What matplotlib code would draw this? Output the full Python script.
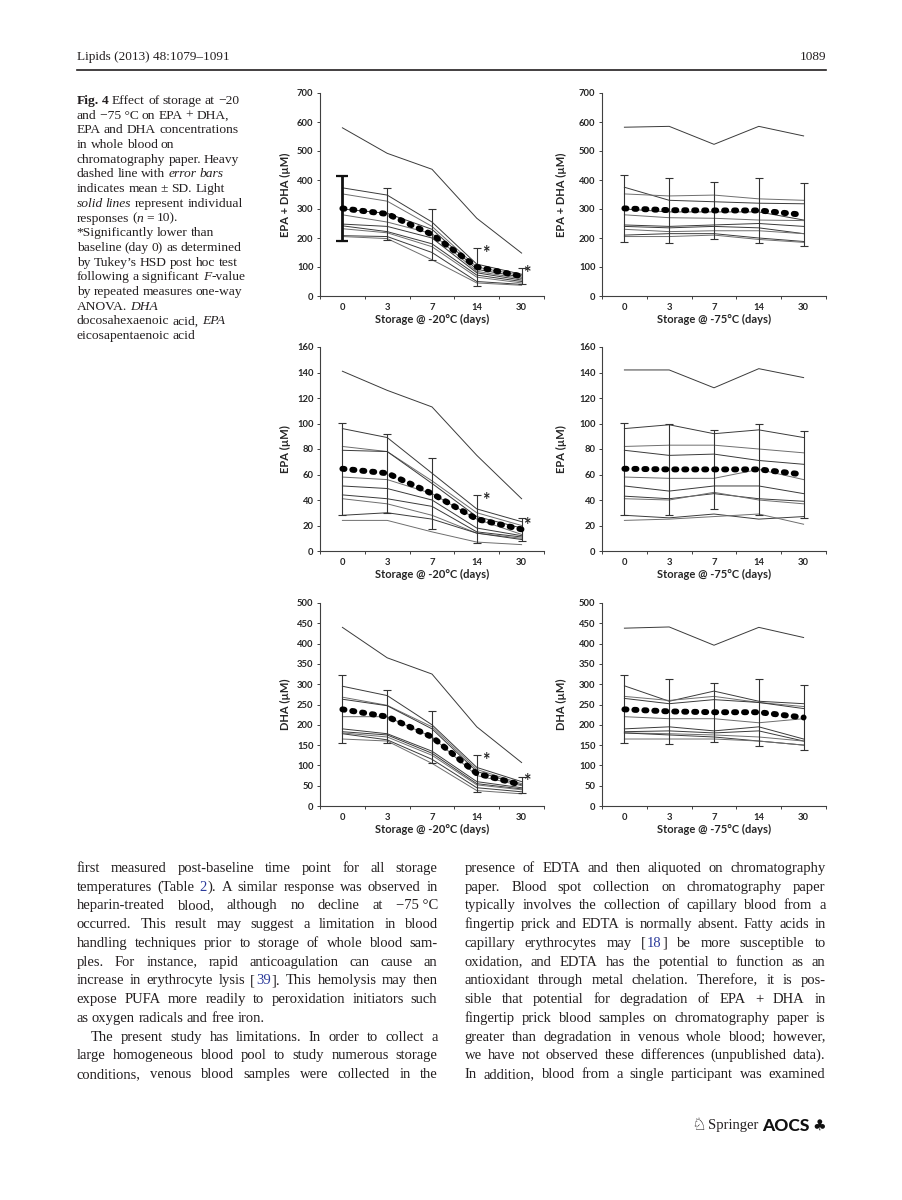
import re
import numpy as np
import matplotlib
matplotlib.use("Agg")
import matplotlib.pyplot as plt
from matplotlib.font_manager import FontProperties, findfont, get_font
from matplotlib.backends.backend_agg import get_hinting_flag

W, H, DPI = 903, 1200, 100

days = ["0", "3", "7", "14", "30"]

# EPA + DHA (uM), storage at -20 C  (10 individual responses)
ed20_lines = [
    [580, 492, 437, 268, 148],
    [373, 348, 255, 110, 75],
    [352, 327, 240, 100, 70],
    [300, 285, 230, 92, 65],
    [280, 255, 215, 85, 60],
    [248, 240, 200, 80, 55],
    [242, 222, 180, 72, 50],
    [232, 218, 170, 65, 45],
    [208, 205, 150, 50, 40],
    [205, 198, 125, 45, 37],
]
ed20_mean = [302, 283, 212, 100, 68]
ed20_sd = [113, 89, 88, 66, 27]

# EPA + DHA (uM), storage at -75 C
ed75_lines = [
    [582, 585, 523, 585, 552],
    [375, 330, 325, 320, 318],
    [352, 345, 348, 335, 330],
    [300, 290, 290, 290, 262],
    [280, 270, 268, 262, 260],
    [245, 240, 245, 250, 240],
    [240, 235, 240, 235, 215],
    [230, 222, 225, 225, 215],
    [210, 215, 215, 200, 188],
    [205, 205, 210, 195, 185],
]
ed75_mean = [302, 296, 295, 295, 280]
ed75_sd = [115, 112, 97, 112, 108]

# EPA (uM), -20 C
epa20_lines = [
    [141, 126, 113, 75, 41],
    [96, 89, 61, 33, 23],
    [82, 78, 55, 30, 20],
    [79, 78, 53, 27, 18],
    [58, 56, 45, 25, 13],
    [51, 49, 40, 18, 12],
    [44, 41, 35, 15, 11],
    [41, 37, 28, 14, 10],
    [28, 30, 25, 14, 9],
    [24, 24, 15, 7, 5],
]
epa20_mean = [64.5, 61, 45, 25, 17]
epa20_sd = [36, 31, 28, 19, 9]

# EPA (uM), -75 C
epa75_lines = [
    [142, 142, 128, 143, 136],
    [96, 99, 92, 95, 89],
    [82, 83, 83, 80, 77],
    [79, 75, 76, 71, 68],
    [58, 57, 57, 64, 56],
    [51, 47, 51, 51, 45],
    [43, 41, 45, 41, 39],
    [41, 40, 46, 40, 37],
    [28, 26, 29, 25, 27],
    [24, 25, 27, 29, 21],
]
epa75_mean = [64.5, 64, 64, 64, 60]
epa75_sd = [36, 36, 31, 36, 34]

# DHA (uM), -20 C
dha20_lines = [
    [440, 365, 325, 195, 107],
    [295, 272, 200, 95, 60],
    [268, 248, 195, 90, 55],
    [263, 247, 190, 85, 52],
    [220, 220, 170, 75, 50],
    [190, 178, 135, 60, 45],
    [183, 175, 130, 55, 42],
    [180, 170, 125, 52, 40],
    [178, 163, 115, 45, 35],
    [165, 160, 105, 38, 30],
]
dha20_mean = [238, 220, 170, 80, 52]
dha20_sd = [84, 65, 64, 45, 19]

# DHA (uM), -75 C
dha75_lines = [
    [438, 441, 396, 440, 415],
    [296, 258, 283, 258, 252],
    [270, 260, 270, 255, 245],
    [265, 252, 262, 255, 240],
    [220, 215, 215, 205, 215],
    [190, 195, 185, 195, 165],
    [183, 185, 180, 185, 160],
    [180, 178, 175, 170, 160],
    [180, 175, 170, 160, 150],
    [165, 165, 165, 160, 150],
]
dha75_mean = [238, 233, 231, 231, 218]
dha75_sd = [84, 80, 73, 82, 80]

# significance asterisks (category position, value)
ed20_star = ([3.2, 4.12], [147, 78])
epa20_star = ([3.2, 4.12], [40, 20])
dha20_star = ([3.2, 4.12], [113, 60])

header_left = "Lipids (2013) 48:1079–1091"
header_right = "1089"

caption = [
    "§Fig. 4§ Effect of storage at −20",
    "and −75~°C on EPA + DHA,",
    "EPA and DHA concentrations",
    "in whole blood on",
    "chromatography paper. Heavy",
    "dashed line with _error bars_",
    "indicates mean ± SD. Light",
    "_solid lines_ represent individual",
    "responses (_n_ = 10).",
    "*Significantly lower than",
    "baseline (day 0) as determined",
    "by Tukey’s HSD post hoc test",
    "following a significant _F_-value",
    "by repeated measures one-way",
    "ANOVA. _DHA_",
    "docosahexaenoic acid, _EPA_",
    "eicosapentaenoic acid",
]

body_left = [
    "first measured post-baseline time point for all storage",
    "temperatures (Table {2}). A similar response was observed in",
    "heparin-treated blood, although no decline at −75~°C",
    "occurred. This result may suggest a limitation in blood",
    "handling techniques prior to storage of whole blood sam-",
    "ples. For instance, rapid anticoagulation can cause an",
    "increase in erythrocyte lysis [{39}]. This hemolysis may then",
    "expose PUFA more readily to peroxidation initiators such",
    "as oxygen radicals and free iron.",
    "The present study has limitations. In order to collect a",
    "large homogeneous blood pool to study numerous storage",
    "conditions, venous blood samples were collected in the",
]
body_right = [
    "presence of EDTA and then aliquoted on chromatography",
    "paper. Blood spot collection on chromatography paper",
    "typically involves the collection of capillary blood from a",
    "fingertip prick and EDTA is normally absent. Fatty acids in",
    "capillary erythrocytes may [{18}] be more susceptible to",
    "oxidation, and EDTA has the potential to function as an",
    "antioxidant through metal chelation. Therefore, it is pos-",
    "sible that potential for degradation of EPA + DHA in",
    "fingertip prick blood samples on chromatography paper is",
    "greater than degradation in venous whole blood; however,",
    "we have not observed these differences (unpublished data).",
    "In addition, blood from a single participant was examined",
]

SERIF = "Liberation Serif"
SANS = ["Lato", "DejaVu Sans"]
INK = "#231f20"

fig = plt.figure(figsize=(W / DPI, H / DPI), dpi=DPI)
page = fig.add_axes([0, 0, 1, 1])
page.set_xlim(0, W)
page.set_ylim(H, 0)
page.axis("off")


def parse(line):
    segs = []
    for m in re.finditer(r"§(.+?)§|_(.+?)_|\{(.+?)\}|([^§_{]+)", line):
        if m.group(1):
            segs.append((m.group(1), "b"))
        elif m.group(2):
            segs.append((m.group(2), "i"))
        elif m.group(3):
            segs.append((m.group(3), "blue"))
        else:
            segs.append((m.group(4), "n"))
    words = [[]]
    for text, st in segs:
        parts = text.split(" ")
        for k, p in enumerate(parts):
            if k > 0:
                words.append([])
            if p:
                words[-1].append((p.replace("~", " "), st))
    return [w for w in words if w]


def style_kw(st, size):
    kw = dict(fontsize=size, family=SERIF, va="baseline", ha="left", color=INK)
    if st == "b":
        kw["weight"] = "bold"
    if st == "i":
        kw["style"] = "italic"
    if st == "blue":
        kw["color"] = "#2b3a9a"
    return kw


def ink(s, st, size):
    # (ink left relative to pen origin, ink width), as the Agg backend sees it
    prop = FontProperties(family=SERIF, size=size,
                          weight="bold" if st == "b" else "normal",
                          style="italic" if st == "i" else "normal")
    f = get_font(findfont(prop))
    f.clear()
    f.set_size(size, DPI)
    f.set_text(s, 0.0, flags=get_hinting_flag())
    w, _ = f.get_width_height()
    xo, _ = f.get_bitmap_offset()
    return xo / 64.0, w / 64.0


def right_edge(s, st, size):
    xo, w = ink(s, st, size)
    return xo + w


def advance(s, st, size):
    return right_edge(s + "x", st, size) - right_edge("x", st, size)


def draw_line(line, x0, y, size, width=None, indent=0):
    words = parse(line)
    info = []
    for word in words:
        origins, cur = [], 0.0
        for s, st in word:
            origins.append(cur)
            cur += advance(s, st, size)
        left = ink(word[0][0], word[0][1], size)[0]
        right = origins[-1] + right_edge(word[-1][0], word[-1][1], size)
        info.append((origins, left, right - left))
    total = sum(i[2] for i in info)
    xs = x0 + indent
    space = advance(" ", "n", size)
    if width is None or len(words) < 2:
        gap = space
    else:
        gap = (x0 + width - xs - total) / (len(words) - 1)
    x = xs
    for word, (origins, left, wd) in zip(words, info):
        base = x - left
        for (s, st), o in zip(word, origins):
            page.text(base + o, y, s, **style_kw(st, size))
        x += wd + gap


# header
page.text(77, 60, header_left, fontsize=9.5, family=SERIF, color=INK, va="baseline")
page.text(826, 60, header_right, fontsize=9.5, family=SERIF, color=INK, va="baseline", ha="right")
page.plot([77, 826], [70, 70], color=INK, lw=1.2)

# caption
for i, line in enumerate(caption):
    draw_line(line, 77, 104 + 14.69 * i, 9.7)

# body text, two justified columns
for i, line in enumerate(body_left):
    last = i == 8
    draw_line(line, 77, 872 + 18.73 * i, 10.5,
              width=None if last else 361, indent=14 if i == 9 else 0)
for i, line in enumerate(body_right):
    draw_line(line, 465, 872 + 18.73 * i, 10.5, width=361)

# footer
page.text(691, 1130, "♘", fontsize=12, family="DejaVu Sans", color=INK, va="baseline")
page.text(708, 1129, "Springer", fontsize=10.5, family=SERIF, color=INK, va="baseline")
page.text(762, 1131, "AOCS", fontsize=12.5, family=SANS, weight="black", color="#111111", va="baseline")
page.text(812, 1130, "♣", fontsize=11, family="DejaVu Sans", color="#111111", va="baseline")

# chart panels
line_colors = ["#3a3a3a", "#3a3a3a", "#6e6e6e", "#3a3a3a", "#6e6e6e",
               "#3a3a3a", "#3a3a3a", "#6e6e6e", "#3a3a3a", "#6e6e6e"]

panels = [
    (0, 0, ed20_lines, ed20_mean, ed20_sd, 700, 100, "EPA + DHA (µM)", "Storage @ -20°C (days)", ed20_star),
    (0, 1, ed75_lines, ed75_mean, ed75_sd, 700, 100, "EPA + DHA (µM)", "Storage @ -75°C (days)", None),
    (1, 0, epa20_lines, epa20_mean, epa20_sd, 160, 20, "EPA (µM)", "Storage @ -20°C (days)", epa20_star),
    (1, 1, epa75_lines, epa75_mean, epa75_sd, 160, 20, "EPA (µM)", "Storage @ -75°C (days)", None),
    (2, 0, dha20_lines, dha20_mean, dha20_sd, 500, 50, "DHA (µM)", "Storage @ -20°C (days)", dha20_star),
    (2, 1, dha75_lines, dha75_mean, dha75_sd, 500, 50, "DHA (µM)", "Storage @ -75°C (days)", None),
]
col_x = [(320, 544), (602, 826)]
row_y = [(93, 296), (347, 551), (603, 806)]
CHART = "#262626"

for n, (row, col, lines, mean, sd, ymax, ystep, ylab, xlab, stars) in enumerate(panels):
    x0, x1 = col_x[col]
    y0, y1 = row_y[row]
    ax = fig.add_axes([x0 / W, 1 - y1 / H, (x1 - x0) / W, (y1 - y0) / H])
    x = np.arange(len(days))
    for k, vals in enumerate(lines):
        ax.plot(x, vals, color=line_colors[k], lw=0.7, zorder=2)
    ax.errorbar(x, mean, yerr=sd, fmt="none", ecolor="#333333", elinewidth=0.8,
                capsize=3.2, capthick=0.8, zorder=3)
    if n == 0:
        # the day-0 bar of the first panel is drawn heavier in the original
        ax.errorbar(x[:1], mean[:1], yerr=sd[:1], fmt="none", ecolor="#111111",
                    elinewidth=2.0, capsize=4, capthick=1.6, zorder=3)
    ax.plot(x, mean, color="black", lw=4.3, dashes=(0.35, 1.32),
            dash_capstyle="round", zorder=4, clip_on=False)
    if stars is not None:
        for sx, sy in zip(*stars):
            ax.text(sx, sy, "*", fontsize=13, family=SANS, weight="bold",
                    color=CHART, ha="center", va="center")
    ax.set_xlim(-0.5, len(days) - 0.5)
    ax.set_ylim(0, ymax)
    ax.set_yticks(np.arange(0, ymax + 1, ystep))
    ax.set_xticks(x)
    ax.set_xticklabels(days)
    ax.set_xticks(np.arange(-0.5, len(days), 1), minor=True)
    ax.tick_params(axis="x", which="major", length=0, pad=5)
    ax.tick_params(axis="x", which="minor", length=2.5, width=0.7, color="#404040")
    ax.tick_params(axis="y", length=2.5, width=0.7, color="#404040", pad=2.2)
    for lab in ax.get_xticklabels() + ax.get_yticklabels():
        lab.set_fontfamily(SANS)
        lab.set_fontweight("bold")
        lab.set_fontsize(6.8)
        lab.set_color(CHART)
    for s in ("top", "right"):
        ax.spines[s].set_visible(False)
    for s in ("left", "bottom"):
        ax.spines[s].set_color("#404040")
        ax.spines[s].set_linewidth(0.8)
    ax.set_ylabel(ylab, fontsize=8, family=SANS, weight="bold", color=CHART)
    ax.yaxis.label.set_va("center")
    ax.yaxis.set_label_coords(-0.152 if col == 0 else -0.179, 0.5)
    ax.set_xlabel(xlab, fontsize=8, family=SANS, weight="bold", color=CHART)
    ax.xaxis.set_label_coords(0.5, -0.088)
    ax.patch.set_alpha(0)

fig.savefig("out.png", dpi=DPI)
